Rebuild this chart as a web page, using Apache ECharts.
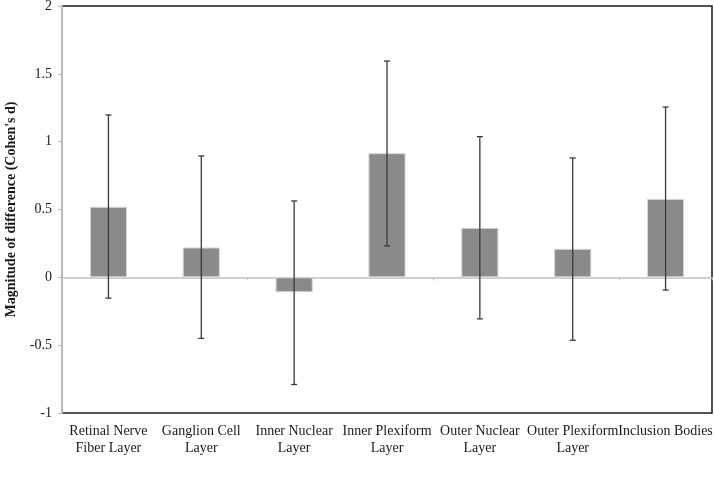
<!DOCTYPE html>
<html>
<head>
<meta charset="utf-8">
<script src="https://cdn.jsdelivr.net/npm/echarts@6/dist/echarts.min.js"></script>
<style>
  html, body { margin: 0; padding: 0; background: #fff; }
  #chart { width: 714px; height: 482px; }
</style>
</head>
<body>
<div id="chart"></div>
<script>
// data
const categories = [
  'Retinal Nerve\nFiber Layer',
  'Ganglion Cell\nLayer',
  'Inner Nuclear\nLayer',
  'Inner Plexiform\nLayer',
  'Outer Nuclear\nLayer',
  'Outer Plexiform\nLayer',
  'Inclusion Bodies'
]
const effectSize = [0.52, 0.22, -0.11, 0.915, 0.365, 0.21, 0.578]
const ciLow = [-0.153, -0.45, -0.79, 0.232, -0.306, -0.464, -0.094]
const ciHigh = [1.197, 0.895, 0.563, 1.594, 1.037, 0.88, 1.255]
const yTicks = { min: -1, max: 2, step: 0.5 }

const FONT = '"Liberation Serif", "DejaVu Serif", serif'

const chart = echarts.init(document.getElementById('chart'), null, { renderer: 'canvas' })

const errorData = categories.map((_, i) => [i, ciLow[i], ciHigh[i]])

const option = {
  animation: false,
  grid: {
    left: 62, right: 2, top: 6, bottom: 69,
    containLabel: false,
    outerBoundsMode: 'none',
    show: true,
    borderColor: '#1a1a1a',
    borderWidth: 1.5,
    backgroundColor: '#fff'
  },
  xAxis: [
    {
      type: 'category',
      data: categories,
      axisLine: { onZero: true, lineStyle: { color: '#c0c0c0', width: 1.5 } },
      axisTick: { show: true, length: 3, lineStyle: { color: '#c0c0c0' } },
      axisLabel: { show: false },
      splitLine: { show: false }
    },
    {
      type: 'category',
      data: categories,
      position: 'bottom',
      axisLine: { show: false },
      axisTick: { show: false },
      axisLabel: {
        margin: 10,
        fontFamily: FONT,
        fontSize: 14,
        lineHeight: 17,
        color: '#1a1a1a',
        interval: 0
      }
    }
  ],
  yAxis: {
    type: 'value',
    min: yTicks.min,
    max: yTicks.max,
    interval: yTicks.step,
    name: "Magnitude of difference (Cohen's d)",
    nameLocation: 'middle',
    nameGap: 44,
    nameTextStyle: { fontFamily: FONT, fontSize: 14, fontWeight: 'bold', color: '#1a1a1a' },
    axisLine: { show: true, lineStyle: { color: '#b8b8b8', width: 2 } },
    axisTick: { show: true, length: 4, lineStyle: { color: '#b8b8b8' } },
    axisLabel: { fontFamily: FONT, fontSize: 14, color: '#1a1a1a', margin: 10 },
    splitLine: { show: false }
  },
  series: [
    {
      type: 'bar',
      xAxisIndex: 0,
      data: effectSize,
      barWidth: '40%',
      itemStyle: { color: '#8a8a8a', borderColor: '#d6d6d6', borderWidth: 1 },
      z: 2
    },
    {
      type: 'custom',
      xAxisIndex: 0,
      data: errorData,
      z: 3,
      renderItem: (params, api) => {
        const x = api.value(0)
        const lo = api.coord([x, api.value(1)])
        const hi = api.coord([x, api.value(2)])
        const cap = 3
        const style = { stroke: '#3a3a3a', lineWidth: 1.3 }
        return {
          type: 'group',
          children: [
            { type: 'line', shape: { x1: hi[0], y1: hi[1], x2: lo[0], y2: lo[1] }, style },
            { type: 'line', shape: { x1: hi[0] - cap, y1: hi[1], x2: hi[0] + cap, y2: hi[1] }, style },
            { type: 'line', shape: { x1: lo[0] - cap, y1: lo[1], x2: lo[0] + cap, y2: lo[1] }, style }
          ]
        }
      }
    }
  ]
}

chart.setOption(option)
</script>
</body>
</html>
